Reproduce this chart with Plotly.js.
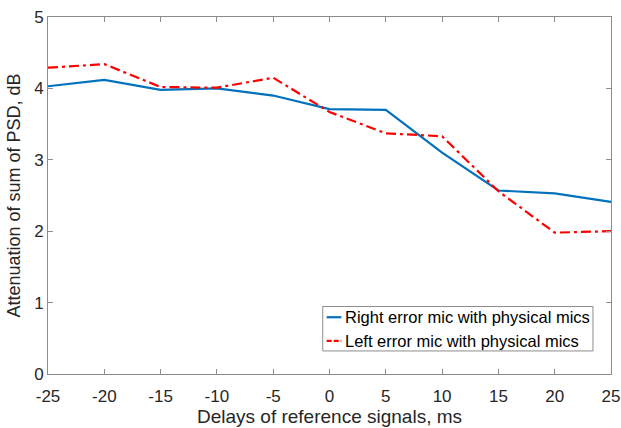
<!DOCTYPE html>
<html>
<head>
<meta charset="utf-8">
<script src="https://cdn.plot.ly/plotly-3.0.1.min.js"></script>
<style>html,body{margin:0;padding:0;background:#fff;}#chart{width:621px;height:428px;}</style>
</head>
<body>
<div id="chart"></div>
<script>
const delays = [-25, -20, -15, -10, -5, 0, 5, 10, 15, 20, 25];
const rightMic = [4.03, 4.12, 3.98, 4.00, 3.90, 3.71, 3.70, 3.10, 2.57, 2.53, 2.41];
const leftMic = [4.29, 4.34, 4.02, 4.01, 4.15, 3.67, 3.37, 3.33, 2.56, 1.98, 2.00];
const seriesNames = ['Right error mic with physical mics', 'Left error mic with physical mics'];
const seriesColors = ['#0072BD', '#FF0000'];
const seriesDash = ['solid', '10px,4px,3px,4px'];
const xTicks = [-25, -20, -15, -10, -5, 0, 5, 10, 15, 20, 25];
const yTicks = [0, 1, 2, 3, 4, 5];

const seriesValues = [rightMic, leftMic];
const traces = seriesValues.map((vals, i) => ({
  x: delays, y: vals, name: seriesNames[i], mode: 'lines',
  line: {color: seriesColors[i], width: 2.2, dash: seriesDash[i]},
  showlegend: false
}));

const FONT = 'Liberation Sans, Arial, sans-serif';
const axisCommon = {
  showgrid: false, zeroline: false, showline: true, mirror: 'ticks',
  linecolor: '#8c8c8c', linewidth: 1, ticks: 'inside', ticklen: 5, tickcolor: '#8c8c8c',
  tickfont: {family: FONT, size: 17, color: '#262626'}
};

// custom legend box (MATLAB-style short line samples)
const legBox = {x0: 0.488, x1: 0.968, y0: 0.0646, y1: 0.189};
const legRowsY = [0.159, 0.0927];
const shapes = [{
  type: 'rect', xref: 'paper', yref: 'paper',
  x0: legBox.x0, x1: legBox.x1, y0: legBox.y0, y1: legBox.y1,
  line: {color: '#8c8c8c', width: 1}, fillcolor: '#fff', layer: 'above'
}];
const annotations = [];
seriesNames.forEach((nm, i) => {
  shapes.push({
    type: 'line', xref: 'paper', yref: 'paper',
    x0: 0.495, x1: 0.521, y0: legRowsY[i], y1: legRowsY[i],
    line: {color: seriesColors[i], width: 2.2, dash: i === 1 ? '5px,2px' : 'solid'}, layer: 'above'
  });
  annotations.push({
    xref: 'paper', yref: 'paper', x: 0.524, y: legRowsY[i],
    xanchor: 'left', yanchor: 'middle', showarrow: false, text: nm,
    font: {family: FONT, size: 16.5, color: '#000'}
  });
});

const layout = {
  width: 621, height: 428,
  margin: {l: 48, r: 10, t: 17, b: 54},
  paper_bgcolor: '#fff', plot_bgcolor: '#fff',
  font: {family: FONT, color: '#262626'},
  xaxis: Object.assign({}, axisCommon, {
    range: [-25, 25], tickvals: xTicks, ticktext: xTicks.map(String),
    ticklabelstandoff: 7,
    title: {text: 'Delays of reference signals, ms', font: {family: FONT, size: 19, color: '#262626'}, standoff: 1}
  }),
  yaxis: Object.assign({}, axisCommon, {
    range: [0, 5], tickvals: yTicks, ticktext: yTicks.map(String),
    title: {text: 'Attenuation of sum of PSD, dB', font: {family: FONT, size: 18, color: '#262626'}, standoff: 8}
  }),
  showlegend: false,
  shapes: shapes,
  annotations: annotations
};
Plotly.newPlot('chart', traces, layout, {displayModeBar: false, staticPlot: true});
</script>
</body>
</html>
